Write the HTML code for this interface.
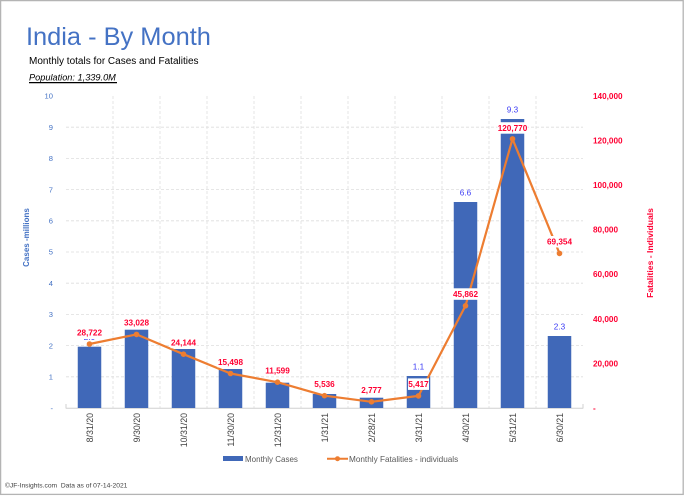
<!DOCTYPE html>
<html><head><meta charset="utf-8">
<style>
html,body{margin:0;padding:0;background:#fff;}
svg{display:block;}
text{font-family:"Liberation Sans",Arial,sans-serif;}
</style></head>
<body>
<svg width="684" height="496" viewBox="0 0 684 496" xmlns="http://www.w3.org/2000/svg">
<rect x="0" y="0" width="684" height="496" fill="#fff"/>
<rect x="0.6" y="0.6" width="682.6" height="493.8" fill="none" stroke="#b4b4b4" stroke-width="1.3"/>

<!-- Titles -->
<text x="26" y="45" font-size="25.4" fill="#4472C4">India - By Month</text>
<text x="29" y="64" font-size="10" fill="#000">Monthly totals for Cases and Fatalities</text>
<text x="29" y="80.5" font-size="9.2" font-style="italic" fill="#000">Population: 1,339.0M</text>
<line x1="29" y1="82.6" x2="117" y2="82.6" stroke="#000" stroke-width="1.3"/>

<!-- Gridlines horizontal -->
<g stroke="#dedede" stroke-width="0.8" stroke-dasharray="3,2">
<line x1="66" y1="376.8" x2="583" y2="376.8"/>
<line x1="66" y1="345.6" x2="583" y2="345.6"/>
<line x1="66" y1="314.4" x2="583" y2="314.4"/>
<line x1="66" y1="283.2" x2="583" y2="283.2"/>
<line x1="66" y1="252" x2="583" y2="252"/>
<line x1="66" y1="220.8" x2="583" y2="220.8"/>
<line x1="66" y1="189.6" x2="583" y2="189.6"/>
<line x1="66" y1="158.4" x2="583" y2="158.4"/>
<line x1="66" y1="127.2" x2="583" y2="127.2"/>
<!-- vertical -->
<line x1="113" y1="96" x2="113" y2="408"/>
<line x1="160" y1="96" x2="160" y2="408"/>
<line x1="207" y1="96" x2="207" y2="408"/>
<line x1="254" y1="96" x2="254" y2="408"/>
<line x1="301" y1="96" x2="301" y2="408"/>
<line x1="348" y1="96" x2="348" y2="408"/>
<line x1="395" y1="96" x2="395" y2="408"/>
<line x1="442" y1="96" x2="442" y2="408"/>
<line x1="489" y1="96" x2="489" y2="408"/>
<line x1="536" y1="96" x2="536" y2="408"/>
</g>
<!-- x axis line -->
<line x1="66" y1="408.3" x2="583" y2="408.3" stroke="#d0d0d0" stroke-width="1"/>
<line x1="66" y1="404" x2="66" y2="408.5" stroke="#d0d0d0" stroke-width="1"/>
<line x1="583" y1="404" x2="583" y2="408.5" stroke="#d0d0d0" stroke-width="1"/>

<!-- Bars -->
<g fill="#4068B8">
<rect x="77.75" y="346.7" width="23.5" height="61.3"/>
<rect x="124.75" y="329.7" width="23.5" height="78.3"/>
<rect x="171.75" y="349" width="23.5" height="59"/>
<rect x="218.75" y="369" width="23.5" height="39"/>
<rect x="265.75" y="382.7" width="23.5" height="25.3"/>
<rect x="312.75" y="394" width="23.5" height="14"/>
<rect x="359.75" y="397.7" width="23.5" height="10.3"/>
<rect x="406.75" y="376" width="23.5" height="32"/>
<rect x="453.75" y="202" width="23.5" height="206"/>
<rect x="500.75" y="119" width="23.5" height="289"/>
<rect x="547.75" y="336" width="23.5" height="72"/>
</g>

<!-- Case labels -->
<g font-size="8.2" fill="#3a3af5" text-anchor="middle">
<text x="89.5" y="340">2.0</text>
<text x="136.5" y="323">2.5</text>
<text x="183.5" y="342.3">1.9</text>
<text x="230.5" y="362.3">1.3</text>
<text x="277.5" y="376">0.8</text>
<text x="324.5" y="387.3">0.5</text>
<text x="371.5" y="391">0.3</text>
<text x="418.5" y="369.3">1.1</text>
<text x="465.5" y="195.5">6.6</text>
<text x="512.5" y="112.3">9.3</text>
<text x="559.5" y="329.3">2.3</text>
</g>

<!-- Fatalities line -->
<polyline fill="none" stroke="#ED7D31" stroke-width="2.2" stroke-linejoin="round"
 points="89.5,344 136.5,334.4 183.5,354.2 230.5,373.5 277.5,382.2 324.5,395.7 371.5,401.8 418.5,395.9 465.5,305.8 512.5,138.9 559.5,253.4"/>
<g fill="#ED7D31">
<circle cx="89.5" cy="344" r="2.8"/>
<circle cx="136.5" cy="334.4" r="2.8"/>
<circle cx="183.5" cy="354.2" r="2.8"/>
<circle cx="230.5" cy="373.5" r="2.8"/>
<circle cx="277.5" cy="382.2" r="2.8"/>
<circle cx="324.5" cy="395.7" r="2.8"/>
<circle cx="371.5" cy="401.8" r="2.8"/>
<circle cx="418.5" cy="395.9" r="2.8"/>
<circle cx="465.5" cy="305.8" r="2.8"/>
<circle cx="512.5" cy="138.9" r="2.8"/>
<circle cx="559.5" cy="253.4" r="2.8"/>
</g>

<!-- Fatality labels with white boxes -->
<g fill="#fff">
<rect x="76.5" y="325.5" width="26" height="13.5"/>
<rect x="123.5" y="316" width="26" height="12.5"/>
<rect x="170.5" y="335.7" width="26" height="12.5"/>
<rect x="217.5" y="355" width="26" height="12.5"/>
<rect x="264.5" y="363.7" width="26" height="12.5"/>
<rect x="314" y="377.2" width="21" height="12.5"/>
<rect x="361" y="383.3" width="21" height="12.5"/>
<rect x="408" y="378.4" width="21" height="11.5"/>
<rect x="452.5" y="288.3" width="26" height="11.5"/>
<rect x="497.5" y="122.2" width="30" height="11.5"/>
<rect x="546.5" y="236" width="26" height="11.5"/>
</g>
<g font-size="8.2" font-weight="bold" fill="#FF0033" text-anchor="middle">
<text x="89.5" y="335.3">28,722</text>
<text x="136.5" y="325.7">33,028</text>
<text x="183.5" y="345.5">24,144</text>
<text x="230.5" y="364.8">15,498</text>
<text x="277.5" y="373.5">11,599</text>
<text x="324.5" y="387">5,536</text>
<text x="371.5" y="393.1">2,777</text>
<text x="418.5" y="387.2">5,417</text>
<text x="465.5" y="297.1">45,862</text>
<text x="512.5" y="131">120,770</text>
<text x="559.5" y="244.7">69,354</text>
</g>

<!-- Left axis ticks -->
<g font-size="7.6" fill="#4472C4" text-anchor="end">
<text x="53" y="411">-</text>
<text x="53" y="379.5">1</text>
<text x="53" y="348.3">2</text>
<text x="53" y="317.1">3</text>
<text x="53" y="285.9">4</text>
<text x="53" y="254.7">5</text>
<text x="53" y="223.5">6</text>
<text x="53" y="192.3">7</text>
<text x="53" y="161.1">8</text>
<text x="53" y="129.9">9</text>
<text x="53" y="98.7">10</text>
</g>

<!-- Right axis ticks -->
<g font-size="8.2" font-weight="bold" fill="#FF0033">
<text x="593" y="411">-</text>
<text x="593" y="366.3">20,000</text>
<text x="593" y="321.8">40,000</text>
<text x="593" y="277.2">60,000</text>
<text x="593" y="232.6">80,000</text>
<text x="593" y="188">100,000</text>
<text x="593" y="143.5">120,000</text>
<text x="593" y="98.9">140,000</text>
</g>

<!-- Axis titles -->
<text transform="translate(26,237.5) rotate(-90)" text-anchor="middle" dy="0.35em" font-size="8" font-weight="bold" fill="#4472C4">Cases -millions</text>
<text transform="translate(650,253) rotate(-90)" text-anchor="middle" dy="0.35em" font-size="8.6" font-weight="bold" fill="#FF0033">Fatalities - Individuals</text>

<!-- X labels -->
<g font-size="8.8" fill="#404040" text-anchor="end">
<text transform="translate(90,413) rotate(-90)" dy="0.35em">8/31/20</text>
<text transform="translate(137,413) rotate(-90)" dy="0.35em">9/30/20</text>
<text transform="translate(184,413) rotate(-90)" dy="0.35em">10/31/20</text>
<text transform="translate(231,413) rotate(-90)" dy="0.35em">11/30/20</text>
<text transform="translate(278,413) rotate(-90)" dy="0.35em">12/31/20</text>
<text transform="translate(325,413) rotate(-90)" dy="0.35em">1/31/21</text>
<text transform="translate(372,413) rotate(-90)" dy="0.35em">2/28/21</text>
<text transform="translate(419,413) rotate(-90)" dy="0.35em">3/31/21</text>
<text transform="translate(466,413) rotate(-90)" dy="0.35em">4/30/21</text>
<text transform="translate(513,413) rotate(-90)" dy="0.35em">5/31/21</text>
<text transform="translate(560,413) rotate(-90)" dy="0.35em">6/30/21</text>
</g>

<!-- Legend -->
<rect x="223" y="456" width="20" height="5" fill="#4068B8"/>
<text x="245" y="461.8" font-size="8" fill="#595959">Monthly Cases</text>
<line x1="327" y1="458.7" x2="348" y2="458.7" stroke="#ED7D31" stroke-width="2"/>
<circle cx="337.5" cy="458.7" r="2.5" fill="#ED7D31"/>
<text x="349" y="461.8" font-size="8.2" fill="#595959">Monthly Fatalities - individuals</text>

<!-- Footer -->
<text x="5" y="487.3" font-size="6.7" fill="#404040" xml:space="preserve">©JF-Insights.com  Data as of 07-14-2021</text>
</svg>
</body></html>
